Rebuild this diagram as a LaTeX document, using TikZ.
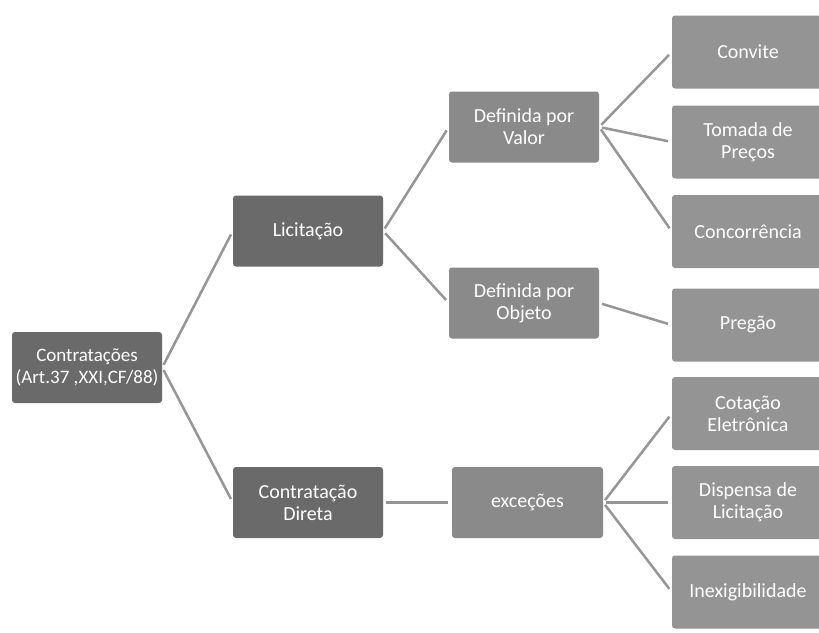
\documentclass[tikz,border=0pt]{standalone}
\usepackage{fontspec}
\setmainfont{Carlito}
\definecolor{darkbox}{RGB}{106,106,106}
\definecolor{midbox}{RGB}{138,138,138}
\definecolor{lightbox}{RGB}{148,148,148}
\definecolor{linkcol}{RGB}{150,150,150}
\begin{document}
\begin{tikzpicture}[x=1pt,y=-1pt,
  box/.style={rounded corners=3pt, text=white, align=center, inner sep=2pt,
    font=\fontsize{20}{22}\selectfont, minimum height=71pt},
  lvl1/.style={box, fill=darkbox, minimum width=150pt},
  lvl2/.style={box, fill=midbox, minimum width=150pt},
  lvl3/.style={box, fill=lightbox, minimum width=152pt, minimum height=73pt},
  link/.style={draw=linkcol, line width=2.5pt, shorten >=4pt, shorten <=3pt}]
\useasboundingbox (0,0) rectangle (819,632);
\fill[white] (0,0) rectangle (819,632);

\node[lvl1, inner xsep=0pt, font=\fontsize{19}{22}\selectfont] (root) at (87,367.5) {Contratações\\(Art.37 ,XXI,CF/88)};
\node[lvl1] (lic) at (308,231) {Licitação};
\node[lvl1] (cd) at (308,502.5) {Contratação\\Direta};

\node[lvl2] (val) at (524,127) {Definida por\\Valor};
\node[lvl2] (obj) at (524,303) {Definida por\\Objeto};
\node[lvl2, minimum width=151pt] (exc) at (527.5,502.5) {exceções};

\node[lvl3] (conv) at (748,52) {Convite};
\node[lvl3] (tom) at (748,142) {Tomada de\\Preços};
\node[lvl3] (conc) at (748,231.5) {Concorrência};
\node[lvl3] (preg) at (748,325) {Pregão};
\node[lvl3] (cot) at (748,413.5) {Cotação\\Eletrônica};
\node[lvl3] (disp) at (748,502.5) {Dispensa de\\Licitação};
\node[lvl3] (inex) at (748,592) {Inexigibilidade};

\draw[link] (root.east) -- (lic.west);
\draw[link] (root.east) -- (cd.west);
\draw[link] (lic.east) -- (val.west);
\draw[link] (lic.east) -- (obj.west);
\draw[link] (cd.east) -- (exc.west);
\draw[link] (val.east) -- (conv.west);
\draw[link] (val.east) -- (tom.west);
\draw[link] (val.east) -- (conc.west);
\draw[link] (obj.east) -- (preg.west);
\draw[link] (exc.east) -- (cot.west);
\draw[link] (exc.east) -- (disp.west);
\draw[link] (exc.east) -- (inex.west);
\end{tikzpicture}
\end{document}
